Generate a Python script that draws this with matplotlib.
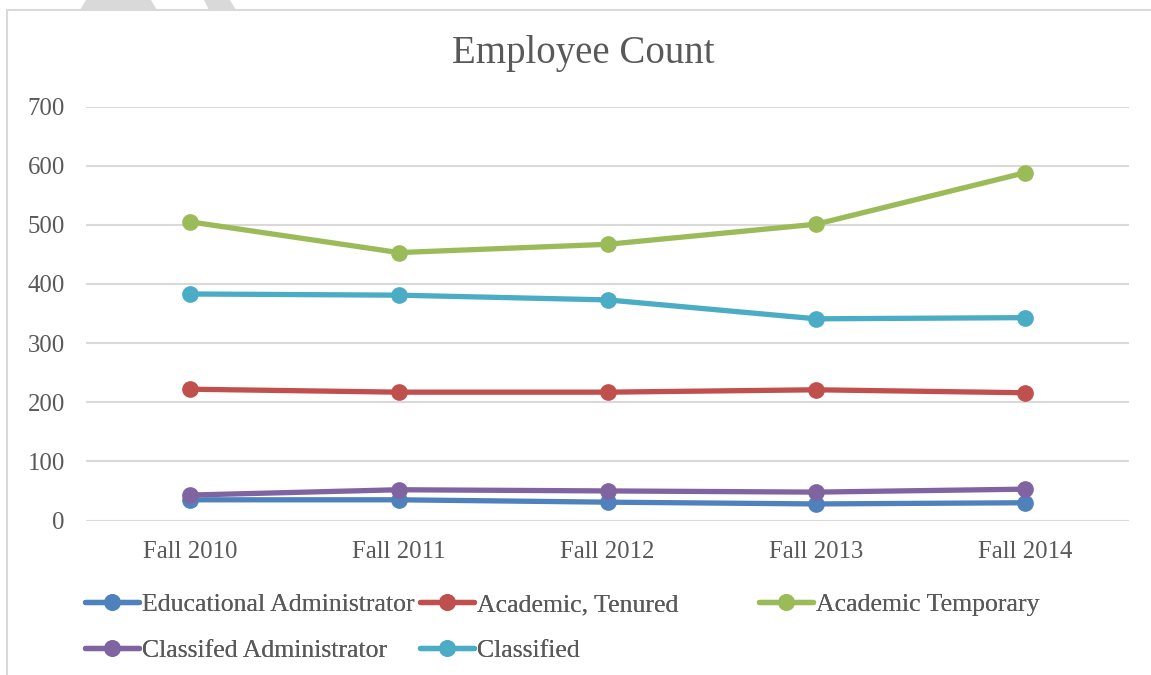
import matplotlib
matplotlib.use("Agg")
import matplotlib.pyplot as plt
from matplotlib.patches import Polygon
from matplotlib.lines import Line2D

categories = ["Fall 2010", "Fall 2011", "Fall 2012", "Fall 2013", "Fall 2014"]
educational_admin = [35, 35, 31, 28, 30]
academic_tenured = [222, 217, 217, 221, 216]
academic_temporary = [505, 453, 467, 501, 588]
classified_admin = [43, 52, 50, 48, 53]
classified = [383, 381, 373, 341, 343]

series_names = ["Educational Administrator", "Academic, Tenured", "Academic Temporary",
                "Classifed Administrator", "Classified"]
series_values = [educational_admin, academic_tenured, academic_temporary,
                 classified_admin, classified]
series_colors = ["#4F81BD", "#C0504D", "#9BBB59", "#8064A2", "#4BACC6"]
yticks = [0, 100, 200, 300, 400, 500, 600, 700]

FONT = "Liberation Serif"
TXT = "#595959"
GRID = "#D9D9D9"

W, H = 1151, 675
fig = plt.figure(figsize=(W / 100, H / 100), dpi=100)
fig.patch.set_facecolor("white")

# top decoration
fig.patches.append(Polygon([(80 / W, 1 - 10 / H), (157 / W, 1 - 10 / H), (151 / W, 1), (86 / W, 1)],
                           closed=True, transform=fig.transFigure, facecolor=GRID, edgecolor="none"))
fig.patches.append(Polygon([(209 / W, 1 - 10 / H), (236 / W, 1 - 10 / H), (230 / W, 1), (204 / W, 1)],
                           closed=True, transform=fig.transFigure, facecolor=GRID, edgecolor="none"))
# chart frame (left and top edges only visible)
fig.add_artist(Line2D([7 / W, 7 / W], [0, 1 - 10 / H], transform=fig.transFigure,
                      color=GRID, linewidth=1.5))
fig.add_artist(Line2D([7 / W, 1], [1 - 10 / H, 1 - 10 / H], transform=fig.transFigure,
                      color=GRID, linewidth=1.5))

ax = fig.add_axes([85.6 / W, 1 - 520.5 / H, (1129.4 - 85.6) / W, (520.5 - 106.5) / H])
x = list(range(len(categories)))
handles = []
for name, vals, col in zip(series_names, series_values, series_colors):
    (h,) = ax.plot(x, vals, color=col, linewidth=3.8, marker="o", markersize=11,
                   solid_capstyle="round", label=name, zorder=3)
    handles.append(h)

ax.set_xlim(-0.5, len(categories) - 0.5)
ax.set_ylim(0, 700)
ax.set_yticks(yticks)
ax.set_yticklabels([str(v) for v in yticks])
ax.set_xticks(x)
ax.set_xticklabels(categories)
for s in ax.spines.values():
    s.set_visible(False)
ax.grid(axis="y", color=GRID, linewidth=1.5)
ax.set_axisbelow(True)
ax.tick_params(axis="both", length=0, colors=TXT, labelsize=17.8)
ax.tick_params(axis="y", pad=15)
ax.tick_params(axis="x", pad=15)
for lab in ax.get_xticklabels() + ax.get_yticklabels():
    lab.set_fontfamily(FONT)

fig.text(583 / W, 1 - 54 / H, "Employee Count", ha="center", va="center",
         fontsize=28, color=TXT, fontfamily=FONT)

# legend: three columns placed like the reference
cols = [([0, 3], 85), ([1, 4], 420), ([2], 759)]
for idx, xpos in cols:
    leg = fig.legend([handles[i] for i in idx], [series_names[i] for i in idx],
                     loc="upper left", bbox_to_anchor=(xpos / W, 1 - 593 / H),
                     frameon=False, handlelength=2.1, handletextpad=0.12,
                     labelspacing=0.9, borderpad=0, borderaxespad=0,
                     prop={"family": FONT, "size": 18.5}, labelcolor=TXT)
    fig.add_artist(leg)

fig.savefig("out.png", dpi=100)
